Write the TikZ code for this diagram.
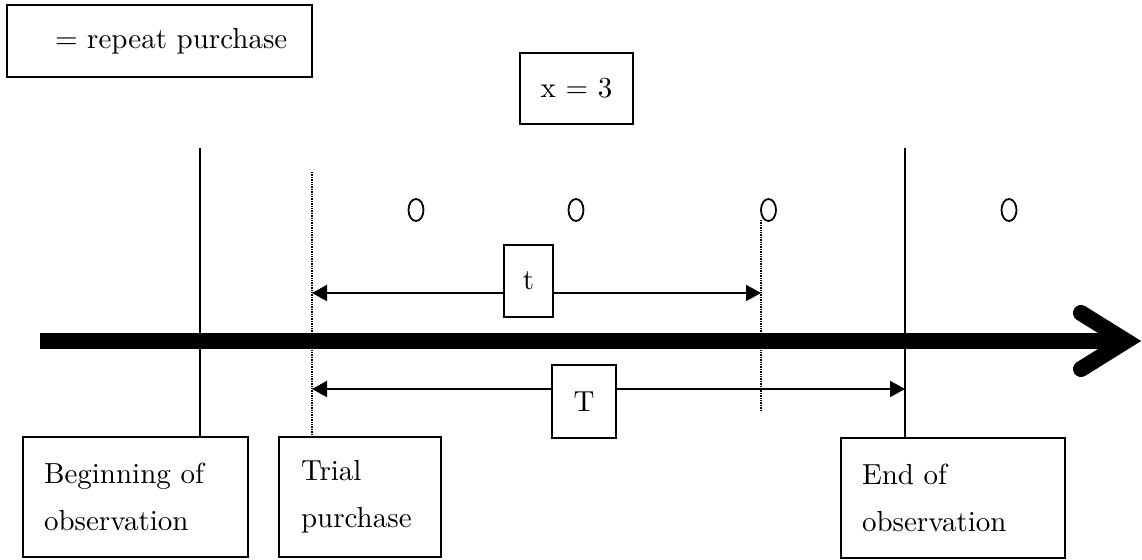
\documentclass[tikz,border=0pt]{standalone}
\usepackage{fontspec}
\setmainfont{lmroman10-regular.otf}
\usepackage{tikz}
\usetikzlibrary{shapes,arrows.meta}

\begin{document}
\begin{tikzpicture}[x=1pt,y=-1pt,font=\fontsize{29}{47}\selectfont,
  box/.style={draw,fill=white,line width=2pt,inner sep=0pt,align=center},
  textbox/.style={box,align=left,inner xsep=21pt,minimum height=120pt},
  buy/.style={draw,ellipse,line width=1.8pt,minimum width=15pt,minimum height=22pt,inner sep=0pt},
  dotline/.style={line width=1.4pt,dash pattern=on 1.3pt off 1.1pt},
  span/.style={line width=2pt,{Triangle[length=15pt,width=16pt]}-{Triangle[length=15pt,width=16pt]}},
  axis/.style={line width=16pt},
  axishead/.style={line width=16pt,line cap=round,line join=miter}]
\pgfsetlinewidth{2pt}
\useasboundingbox (0,0) rectangle (1142,559);
%
% cajas de abajo
\node[textbox,text width=183pt] (begin) at (135.5,497) {Beginning of\\observation};
\node[textbox,text width=118pt,inner xsep=22pt] (trialbox) at (360,497) {Trial\\purchase};
\node[textbox,text width=182pt] (endbox) at (953,498) {End of\\observation};
%
% lineas verticales
\coordinate (obsstart) at (200,148);
\coordinate (trial) at (312,172);
\coordinate (obsend) at (905,148);
\coordinate (lastbuy) at (761,220);
\coordinate (lastbuydown) at (761,412);
\draw (obsstart) -- (obsstart |- begin.north);
\draw (obsend) -- (obsend |- endbox.north);
\draw[dotline] (trial) -- (trial |- trialbox.north);
\draw[dotline] (lastbuy) -- (lastbuydown);
%
% compras repetidas
\foreach \x/\n in {416/1,576/2,768.5/3,1009/4}
\node[buy] (buy\n) at (\x,210) {};
%
% eje de tiempo
\coordinate (axisstart) at (40,341);
\coordinate (axisend) at (1126,341);
\draw[axis] (axisstart) -- (axisend);
\draw[axishead] ([shift={(-45,-28)}]axisend) -- (axisend) -- ([shift={(-45,28)}]axisend);
%
% intervalos t y T
\coordinate (tl) at (312,293);
\coordinate (tr) at (761,293);
\coordinate (Tl) at (312,389);
\coordinate (Tr) at (905,389);
\draw[span] (tl) -- (tr);
\draw[span] (Tl) -- (Tr);
\node[box,minimum width=49pt,minimum height=72pt] (tbox) at (528.5,281) {t};
\node[box,minimum width=64pt,minimum height=73pt] (Tbox) at (584,401.5) {T};
%
% cajas de arriba
\node[box,align=left,text width=285pt,inner xsep=10pt,minimum height=72pt] (legend) at (159.5,41) {\hspace*{38pt}= repeat purchase};
\node[box,minimum width=113pt,minimum height=71pt] (count) at (576.5,88.5) {x = 3};
\end{tikzpicture}
\end{document}
